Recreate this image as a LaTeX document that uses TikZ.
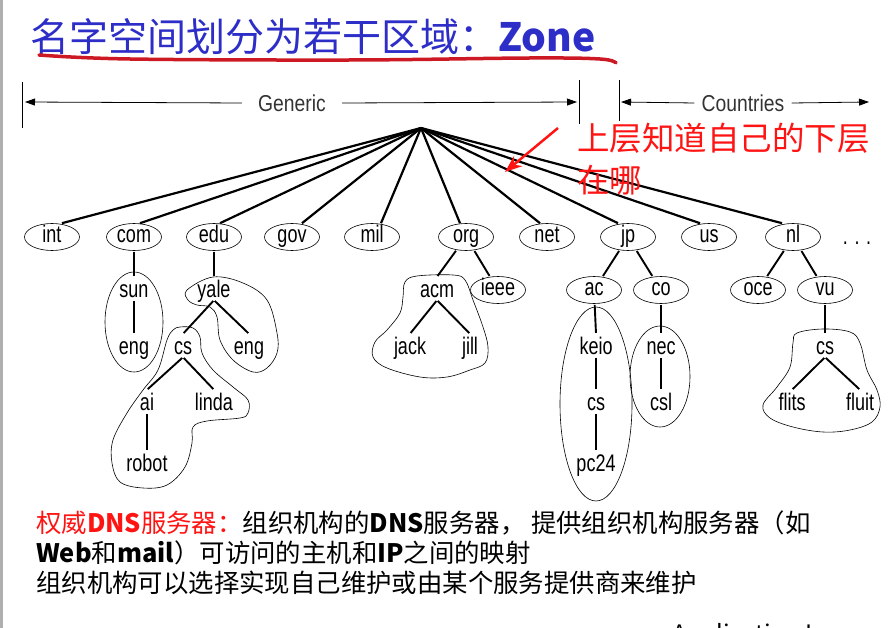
\documentclass[tikz,border=0pt]{standalone}
\usepackage{fontspec}
\setmainfont{Liberation Sans}
\newfontfamily\cjkfont{Noto Sans CJK SC}
\newfontfamily\treefont[FakeStretch=0.75]{Liberation Sans}
\newfontfamily\barfont[FakeStretch=0.84]{Liberation Sans}
\usetikzlibrary{shapes.geometric,arrows.meta}

\definecolor{titleblue}{RGB}{45,45,200}
\definecolor{inkred}{RGB}{205,25,35}
\definecolor{notered}{RGB}{255,20,20}
\definecolor{framegray}{RGB}{175,175,175}

\tikzset{
  dnsnode/.style={draw, ellipse, line width=0.6pt, minimum width=55pt, minimum height=27pt,
    inner sep=0pt, font=\treefont\fontsize{24}{24}\selectfont, text height=10pt, text depth=0pt},
  hostname/.style={inner xsep=2pt, inner ysep=3pt, font=\treefont\fontsize{24}{24}\selectfont,
    text height=17pt, text depth=0pt},
  rootline/.style={line width=2.2pt},
  treeedge/.style={line width=1.9pt, shorten <=1pt, shorten >=1pt},
  zoneline/.style={line width=0.6pt},
  bararrow/.style={line width=0.8pt, -{Triangle[length=10pt,width=7pt]}},
  barlabel/.style={font=\barfont\fontsize{23}{23}\selectfont, text=black!80},
  notearrow/.style={notered, line width=2.5pt, -{Stealth[length=17pt,width=13pt]}},
  textline/.style={anchor=west, inner sep=0pt, font=\cjkfont\fontsize{25.4}{27}\selectfont}
}

\begin{document}
\begin{tikzpicture}[x=1pt, y=-1pt]
    \useasboundingbox (0,0) rectangle (890,628);
    \fill[framegray] (0,0) rectangle (2.5,628);

    % Title
    \node[anchor=west, inner sep=0pt, text=titleblue, font=\cjkfont\fontsize{39}{41}\selectfont]
        (title) at (30,37) {名字空间划分为若干区域：\textbf{Zone}};
    \draw[inkred, line width=3.5pt, line cap=round]
        plot[smooth, tension=0.6] coordinates {(39,55) (130,59) (350,60) (530,58) (600,59) (616,63)};

    % Generic / Countries ranges
    \draw[line width=0.8pt] (22,82) -- (22,128);
    \draw[line width=0.8pt] (579,80) -- (579,124);
    \draw[line width=0.8pt] (619,80) -- (619,121);
    \node[barlabel, inner xsep=16pt] (generic) at (292,103) {Generic};
    \node[barlabel, inner xsep=7pt] (countries) at (743,103) {Countries};
    \coordinate (genericleft) at (25,102);
    \coordinate (genericright) at (577,102);
    \coordinate (countriesleft) at (621,102);
    \coordinate (countriesright) at (869,102);
    \draw[bararrow] (generic.west) -- (genericleft);
    \draw[bararrow] (generic.east) -- (genericright);
    \draw[bararrow] (countries.west) -- (countriesleft);
    \draw[bararrow] (countries.east) -- (countriesright);

    % Top-level domains
    \coordinate (root) at (421,128);
    \node[dnsnode] (int) at (52,237) {int};
    \node[dnsnode] (com) at (134,237) {com};
    \node[dnsnode] (edu) at (214,237) {edu};
    \node[dnsnode] (gov) at (292,237) {gov};
    \node[dnsnode] (mil) at (372,237) {mil};
    \node[dnsnode] (org) at (466,237) {org};
    \node[dnsnode] (net) at (547,237) {net};
    \node[dnsnode] (jp) at (628,237) {jp};
    \node[dnsnode] (us) at (709,237) {us};
    \node[dnsnode] (nl) at (793,237) {nl};
    \node[hostname] (dots) at (857,236) {. . .};

    \draw[rootline] (root) -- ([xshift=10pt]int.north);
    \draw[rootline] (root) -- ([xshift=6pt]com.north);
    \draw[rootline] (root) -- ([xshift=6pt]edu.north);
    \draw[rootline] (root) -- ([xshift=10pt]gov.north);
    \draw[rootline] (root) -- ([xshift=9pt]mil.north);
    \draw[rootline] (root) -- ([xshift=-6pt]org.north);
    \draw[rootline] (root) -- ([xshift=-7pt]net.north);
    \draw[rootline] (root) -- ([xshift=-10pt]jp.north);
    \draw[rootline] (root) -- ([xshift=-9pt]us.north);
    \draw[rootline] (root) -- ([xshift=-11pt]nl.north);

    % Second level
    \node[hostname] (sun) at (134,288.5) {sun};
    \node[hostname] (yale) at (214,288.5) {yale};
    \node[hostname] (acm) at (437,288.5) {acm};
    \node[dnsnode] (ieee) at (498,290) {ieee};
    \node[dnsnode] (ac) at (594,290) {ac};
    \node[dnsnode] (co) at (661,290) {co};
    \node[dnsnode] (oce) at (758,290) {oce};
    \node[dnsnode] (vu) at (825,290) {vu};

    % Third level
    \node[hostname] (suneng) at (134,345.5) {eng};
    \node[hostname] (yalecs) at (183,345.5) {cs};
    \node[hostname] (yaleeng) at (249,345.5) {eng};
    \node[hostname] (jack) at (410,345.5) {jack};
    \node[hostname] (jill) at (470,345.5) {jill};
    \node[hostname] (keio) at (596,345.5) {keio};
    \node[hostname] (nec) at (661,345.5) {nec};
    \node[hostname] (vucs) at (825,345.5) {cs};

    % Fourth and fifth level
    \node[hostname] (ai) at (147,401.5) {ai};
    \node[hostname] (linda) at (214,401.5) {linda};
    \node[hostname] (keiocs) at (596,401.5) {cs};
    \node[hostname] (csl) at (661,401.5) {csl};
    \node[hostname] (flits) at (792,401.5) {flits};
    \node[hostname] (fluit) at (860,401.5) {fluit};
    \node[hostname] (robot) at (147,462.5) {robot};
    \node[hostname] (pc24) at (596,462.5) {pc24};

    % Tree edges
    \draw[treeedge] (com) -- (sun.north);
    \draw[treeedge] (sun) -- (suneng);
    \draw[treeedge] (edu) -- (yale.north);
    \draw[treeedge] (yale.south) -- (yalecs.north);
    \draw[treeedge] (yale.south) -- (yaleeng.north);
    \draw[treeedge] (yalecs.south) -- (ai.north);
    \draw[treeedge] (yalecs.south) -- (linda.north);
    \draw[treeedge] (ai) -- (robot);
    \draw[treeedge] (org) -- (acm.north);
    \draw[treeedge] (org) -- (ieee);
    \draw[treeedge] (acm.south) -- (jack.north);
    \draw[treeedge] (acm.south) -- (jill.north);
    \draw[treeedge] (jp) -- (ac);
    \draw[treeedge] (jp) -- (co);
    \draw[treeedge] (ac) -- (keio.north);
    \draw[treeedge] (keio) -- (keiocs);
    \draw[treeedge] (keiocs) -- (pc24);
    \draw[treeedge] (co) -- (nec.north);
    \draw[treeedge] (nec) -- (csl);
    \draw[treeedge] (nl) -- (oce);
    \draw[treeedge] (nl) -- (vu);
    \draw[treeedge] (vu) -- (vucs.north);
    \draw[treeedge] (vucs.south) -- (flits.north);
    \draw[treeedge] (vucs.south) -- (fluit.north);

    % Zones
    \draw[zoneline] (134,322) ellipse (29 and 50);
    \draw[zoneline] plot[smooth cycle, tension=0.6] coordinates {
        (187,290) (213,277) (243,283) (267,300) (277,333) (277,353) (267,368)
        (253,372) (233,360) (220,340) (217,317) (210,307) (197,305) (188,300)};
    \draw[zoneline] plot[smooth cycle, tension=0.6] coordinates {
        (180,327) (193,328) (200,337) (202,353) (213,370) (233,387) (248,400)
        (248,413) (240,418) (207,421) (193,427) (192,443) (185,467) (167,485)
        (143,488) (120,482) (112,463) (113,440) (127,413) (143,390) (158,370)
        (167,340) (173,330)};
    \draw[zoneline] plot[smooth cycle, tension=0.6] coordinates {
        (405,282) (417,276) (453,275) (465,280) (473,300) (483,327) (488,347)
        (485,363) (470,370) (447,377) (420,377) (387,368) (373,357) (375,342)
        (387,330) (400,313) (403,297)};
    \draw[zoneline] (596,404) ellipse (36 and 97);
    \draw[zoneline] (660,376.5) ellipse (30 and 50.5);
    \draw[zoneline] plot[smooth cycle, tension=0.6] coordinates {
        (797,333) (823,329) (850,332) (860,343) (867,370) (877,390) (880,407)
        (872,422) (850,430) (823,432) (793,427) (770,418) (763,405) (777,387)
        (790,367) (793,343)};

    % Note
    \node[anchor=west, inner sep=0pt, text=notered, font=\cjkfont\fontsize{32.5}{34}\selectfont]
        (noteline) at (577,138) {上层知道自己的下层};
    \node[anchor=west, inner sep=0pt, text=notered, font=\cjkfont\fontsize{32.5}{34}\selectfont]
        (notelinetwo) at (577,180) {在哪};
    \coordinate (notetail) at (558,128);
    \coordinate (notetip) at (505,172);
    \draw[notearrow] (notetail) -- (notetip);

    % Bottom text
    \node[textline] (lineone) at (36,523)
        {\textcolor{notered}{权威\textbf{DNS}服务器：}组织机构的\textbf{DNS}服务器， 提供组织机构服务器（如};
    \node[textline] (linetwo) at (36,553) {\textbf{Web}和\textbf{mail}）可访问的主机和\textbf{IP}之间的映射};
    \node[textline] (linethree) at (36,583) {组织机构可以选择实现自己维护或由某个服务提供商来维护};

    \begin{scope}
        \clip (0,0) rectangle (890,628);
        \node[anchor=base west, inner sep=0pt, font=\cjkfont\fontsize{24}{26}\selectfont]
            (footer) at (672,642) {Application Layer};
    \end{scope}
\end{tikzpicture}
\end{document}
